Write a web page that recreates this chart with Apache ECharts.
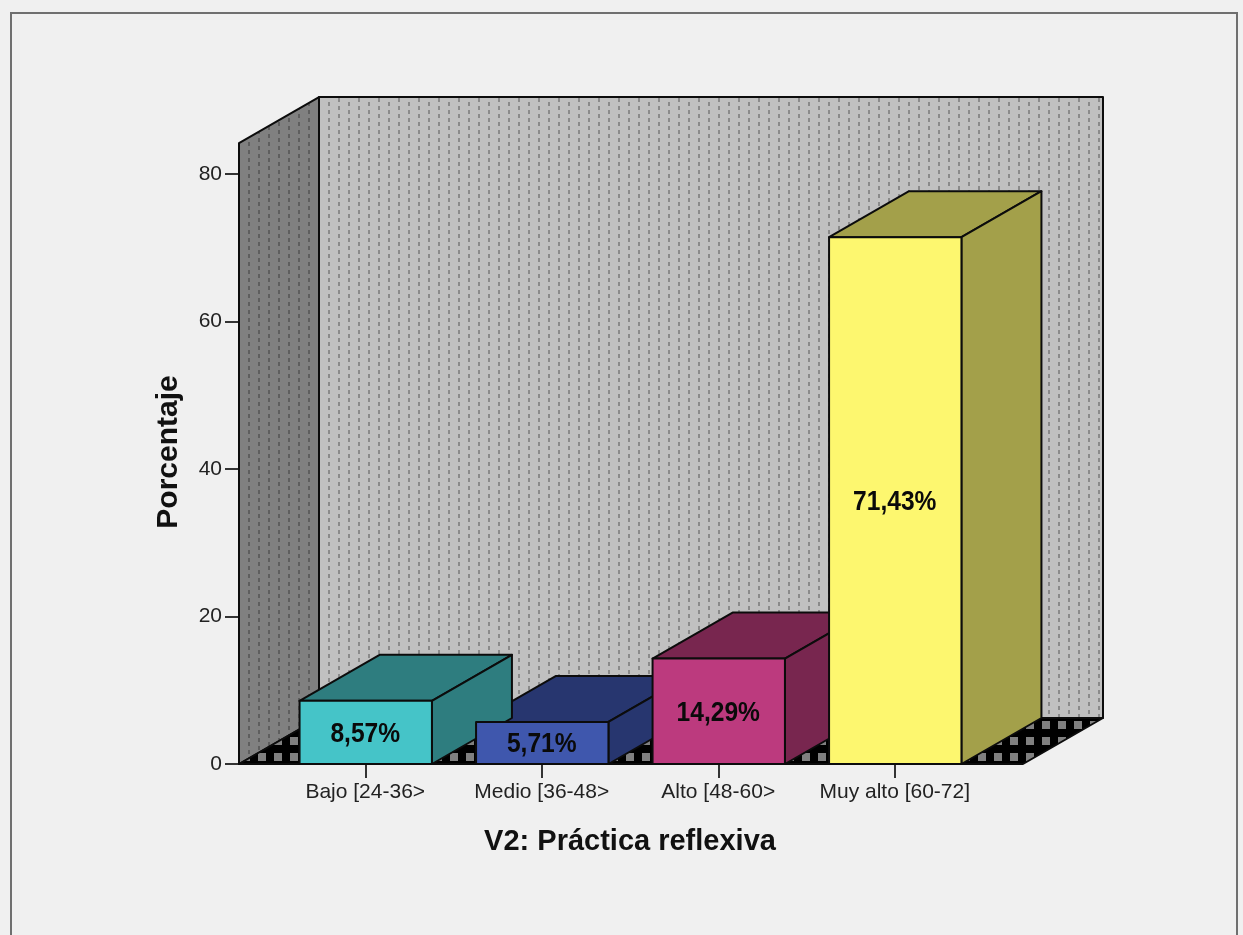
<!DOCTYPE html>
<html><head><meta charset="utf-8">
<style>html,body{margin:0;padding:0;background:#f0f0f0;overflow:hidden}#c{width:1243px;height:935px}#c canvas{filter:blur(.5px)}</style>
<script src="https://cdn.jsdelivr.net/npm/echarts@6/dist/echarts.min.js"></script></head>
<body><div id="c"></div>
<script>
const categories = ['Bajo [24-36>', 'Medio [36-48>', 'Alto [48-60>', 'Muy alto [60-72]'];
const percentages = [8.57, 5.71, 14.29, 71.43];
const yTicks = [0, 20, 40, 60, 80];
const xTitle = 'V2: Práctica reflexiva';
const yTitle = 'Porcentaje';
const frontColors = ['#45c4c8', '#3f57ad', '#bc3a7e', '#fdf76f'];
const sideColors = ['#2e7d7f', '#27366f', '#78264f', '#a3a04a'];

const wallTopValue = 84.2, depthX = 80, depthY = 46, marginLeft = 38, marginRight = 40, barRatio = 0.75;
const fontFamily = '"Liberation Sans", Arial, sans-serif';

function pattern(w, h, bg, fg, draws) {
  const c = document.createElement('canvas'); c.width = w; c.height = h;
  const x = c.getContext('2d');
  x.fillStyle = bg; x.fillRect(0, 0, w, h);
  x.fillStyle = fg;
  draws.forEach(d => x.fillRect(d[0], d[1], d[2], d[3]));
  return { image: c, repeat: 'repeat' };
}
const dots = [[8, 0, 2, 2], [8, 6, 2, 2], [18, 2, 2, 4]];
const backPattern = pattern(20, 8, '#c0c0c0', '#8a8a8a', dots);
const leftPattern = pattern(20, 8, '#808080', '#5e5e5e', dots);
const floorPattern = pattern(16, 16, '#000000', '#808080', [[2, 1, 8, 8]]);

function poly(points, fill, z2) {
  return { type: 'polygon', z2: z2 || 0, shape: { points }, style: { fill, stroke: '#0c0c0c', lineWidth: 2, lineJoin: 'round' } };
}
function renderWalls(params, api) {
  const cs = params.coordSys;
  const l = cs.x - marginLeft, r = cs.x + cs.width + marginRight;
  const b = api.coord([0, 0])[1], t = api.coord([0, wallTopValue])[1];
  return { type: 'group', children: [
    poly([[l + depthX, t - depthY], [r + depthX, t - depthY], [r + depthX, b - depthY], [l + depthX, b - depthY]], backPattern, 1),
    poly([[l, t], [l + depthX, t - depthY], [l + depthX, b - depthY], [l, b]], leftPattern, 2),
    poly([[l, b], [l + depthX, b - depthY], [r + depthX, b - depthY], [r, b]], floorPattern, 3)
  ] };
}
function renderBar(params, api) {
  const i = api.value(0), v = api.value(1);
  const c = api.coord([i, v]), b = api.coord([i, 0]);
  const w = api.size([1, 0])[0] * barRatio;
  const x0 = c[0] - w / 2 + 0.5, x1 = c[0] + w / 2 + 0.5, yt = c[1], yb = b[1];
  const front = frontColors[i], side = sideColors[i];
  return { type: 'group', children: [
    poly([[x0, yt], [x0 + depthX, yt - depthY], [x1 + depthX, yt - depthY], [x1, yt]], side, 1),
    poly([[x1, yt], [x1 + depthX, yt - depthY], [x1 + depthX, yb - depthY], [x1, yb]], side, 2),
    poly([[x0, yt], [x1, yt], [x1, yb], [x0, yb]], front, 3),
    { type: 'text', z2: 4, x: c[0], y: (yt + yb) / 2 + 2, scaleX: 0.91, style: { text: v.toFixed(2).replace('.', ',') + '%', x: 0, y: 0, align: 'center', verticalAlign: 'middle', fill: '#0a0a0a', font: 'bold 27px ' + fontFamily } }
  ] };
}

const chart = echarts.init(document.getElementById('c'), null, { renderer: 'canvas' });
chart.setOption({
  animation: false,
  backgroundColor: '#f0f0f0',
  graphic: [{ type: 'rect', z: -1, shape: { x: 11, y: 13, width: 1226, height: 940 }, style: { fill: '#f0f0f0', stroke: '#6f6f6f', lineWidth: 2 } }],
  grid: { left: 277, right: 260, top: 174, bottom: 171 },
  xAxis: {
    type: 'category', data: categories,
    axisLine: { show: false },
    axisTick: { show: true, alignWithLabel: true, length: 14, lineStyle: { color: '#333', width: 2 } },
    axisLabel: { margin: 18, color: '#222', fontSize: 21, fontFamily, interval: 0, hideOverlap: false },
    name: xTitle, nameLocation: 'middle', nameGap: 63, nameMoveOverlap: false,
    nameTextStyle: { fontSize: 29, fontWeight: 'bold', color: '#111', fontFamily }
  },
  yAxis: {
    type: 'value', min: yTicks[0], max: yTicks[yTicks.length - 1], interval: 20, offset: marginLeft,
    axisLine: { show: false }, splitLine: { show: false },
    axisTick: { show: true, length: 14, lineStyle: { color: '#333', width: 2 } },
    axisLabel: { margin: 17, color: '#222', fontSize: 21, fontFamily },
    name: yTitle, nameLocation: 'middle', nameRotate: 90, nameGap: 55, nameMoveOverlap: false,
    nameTextStyle: { fontSize: 30, fontWeight: 'bold', color: '#111', fontFamily, padding: [0, 0, 0, 34] }
  },
  series: [
    { type: 'custom', z: 1, clip: false, silent: true, renderItem: renderWalls, data: [[0, 0]], encode: { x: 0, y: 1 } },
    { type: 'custom', z: 2, clip: false, renderItem: renderBar, data: percentages.map((v, i) => [i, v]), encode: { x: 0, y: 1 } }
  ]
});
</script></body></html>
